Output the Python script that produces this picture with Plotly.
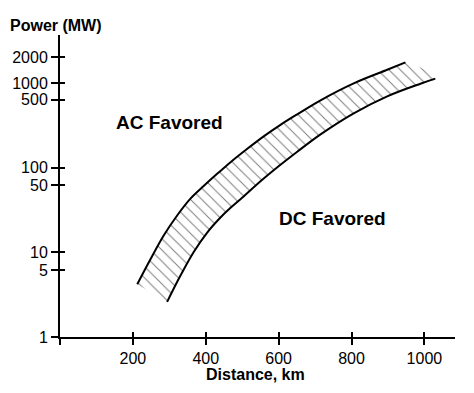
import plotly.graph_objects as go

# Upper boundary (AC side) of the transition band
upper_km = [212, 249, 285, 322, 358, 395, 432, 468, 514, 559, 605, 651, 715, 806, 898, 948]
upper_mw = [4.2, 8.4, 15.9, 27.4, 43, 61, 85, 116, 167, 234, 320, 426, 624, 989, 1430, 1750]

# Lower boundary (DC side) of the transition band
lower_km = [294, 331, 367, 404, 441, 468, 496, 555, 605, 651, 715, 806, 898, 989, 1030]
lower_mw = [2.6, 5.35, 10.1, 17.1, 25.9, 33.5, 42.6, 71.8, 108, 154, 247, 438, 695, 979, 1124]

x_tick_vals = [0, 200, 400, 600, 800, 1000]
x_tick_text = ["", "200", "400", "600", "800", "1000"]
y_tick_text = ["1", "5", "10", "50", "100", "500", "1000", "2000"]
y_tick_pos = [1, 6.13, 10, 61.8, 100, 635, 1000, 2000]

FONT = "Liberation Sans, Arial, sans-serif"
SMOOTH = 1.0

fig = go.Figure()

# hatched band
fig.add_trace(go.Scatter(
    x=upper_km + lower_km[::-1],
    y=upper_mw + lower_mw[::-1],
    mode="lines",
    line=dict(width=0, shape="spline", smoothing=SMOOTH),
    fill="toself",
    fillcolor="rgba(0,0,0,0)",
    fillpattern=dict(shape="\\", fgcolor="#7a7a7a", bgcolor="rgba(0,0,0,0)",
                     size=8, solidity=0.12),
    hoverinfo="skip", showlegend=False,
))

fig.add_trace(go.Scatter(x=upper_km, y=upper_mw, mode="lines",
                         line=dict(color="black", width=2, shape="spline", smoothing=SMOOTH),
                         showlegend=False))
fig.add_trace(go.Scatter(x=lower_km, y=lower_mw, mode="lines",
                         line=dict(color="black", width=2, shape="spline", smoothing=SMOOTH),
                         showlegend=False))
# dummy trace to activate overlay axes (inner halves of the crossing ticks)
fig.add_trace(go.Scatter(x=[None], y=[None], xaxis="x2", yaxis="y2",
                         showlegend=False, hoverinfo="skip"))

XR = [0, 1084]
YR = [0, 3.566]

fig.update_layout(
    template="none",
    width=474, height=393,
    margin=dict(l=60, r=19, t=35, b=56, pad=0, autoexpand=False),
    paper_bgcolor="white", plot_bgcolor="white",
    font=dict(family=FONT, size=16, color="black"),
    xaxis=dict(range=XR, showgrid=False, zeroline=False, automargin=False,
               showline=True, linecolor="black", linewidth=2,
               ticks="outside", ticklen=6, tickwidth=2, tickcolor="black",
               tickvals=x_tick_vals, ticktext=x_tick_text,
               tickfont=dict(size=16, family=FONT)),
    yaxis=dict(type="log", range=YR, showgrid=False, zeroline=False, automargin=False,
               showline=True, linecolor="black", linewidth=2,
               ticks="outside", ticklen=7, tickwidth=2, tickcolor="black",
               tickvals=y_tick_pos, ticktext=y_tick_text,
               tickfont=dict(size=16, family=FONT)),
    xaxis2=dict(range=XR, overlaying="x", anchor="y", side="bottom", automargin=False,
                showgrid=False, zeroline=False, showline=False,
                ticks="inside", ticklen=5, tickwidth=2, tickcolor="black",
                tickvals=x_tick_vals, showticklabels=False),
    yaxis2=dict(type="log", range=YR, overlaying="y", anchor="x", side="left", automargin=False,
                showgrid=False, zeroline=False, showline=False,
                ticks="inside", ticklen=5, tickwidth=2, tickcolor="black",
                tickvals=y_tick_pos, showticklabels=False),
    annotations=[
        dict(text="<b>Power (MW)</b>", xref="paper", yref="paper",
             x=-0.009, y=1.031, xanchor="center", yanchor="middle",
             showarrow=False, font=dict(size=16, family=FONT)),
        dict(text="<b>Distance, km</b>", xref="paper", yref="paper",
             x=0.494, y=-0.124, xanchor="center", yanchor="middle",
             showarrow=False, font=dict(size=16, family=FONT)),
        dict(text="<b>AC Favored</b>", xref="x", yref="y",
             x=301, y=2.527, xanchor="center", yanchor="middle",
             showarrow=False, font=dict(size=19, family=FONT)),
        dict(text="<b>DC Favored</b>", xref="x", yref="y",
             x=747, y=1.405, xanchor="center", yanchor="middle",
             showarrow=False, font=dict(size=19, family=FONT)),
    ],
)

fig.write_html("out.html", config={"displayModeBar": False},
               post_script="document.body.style.margin='0';")
